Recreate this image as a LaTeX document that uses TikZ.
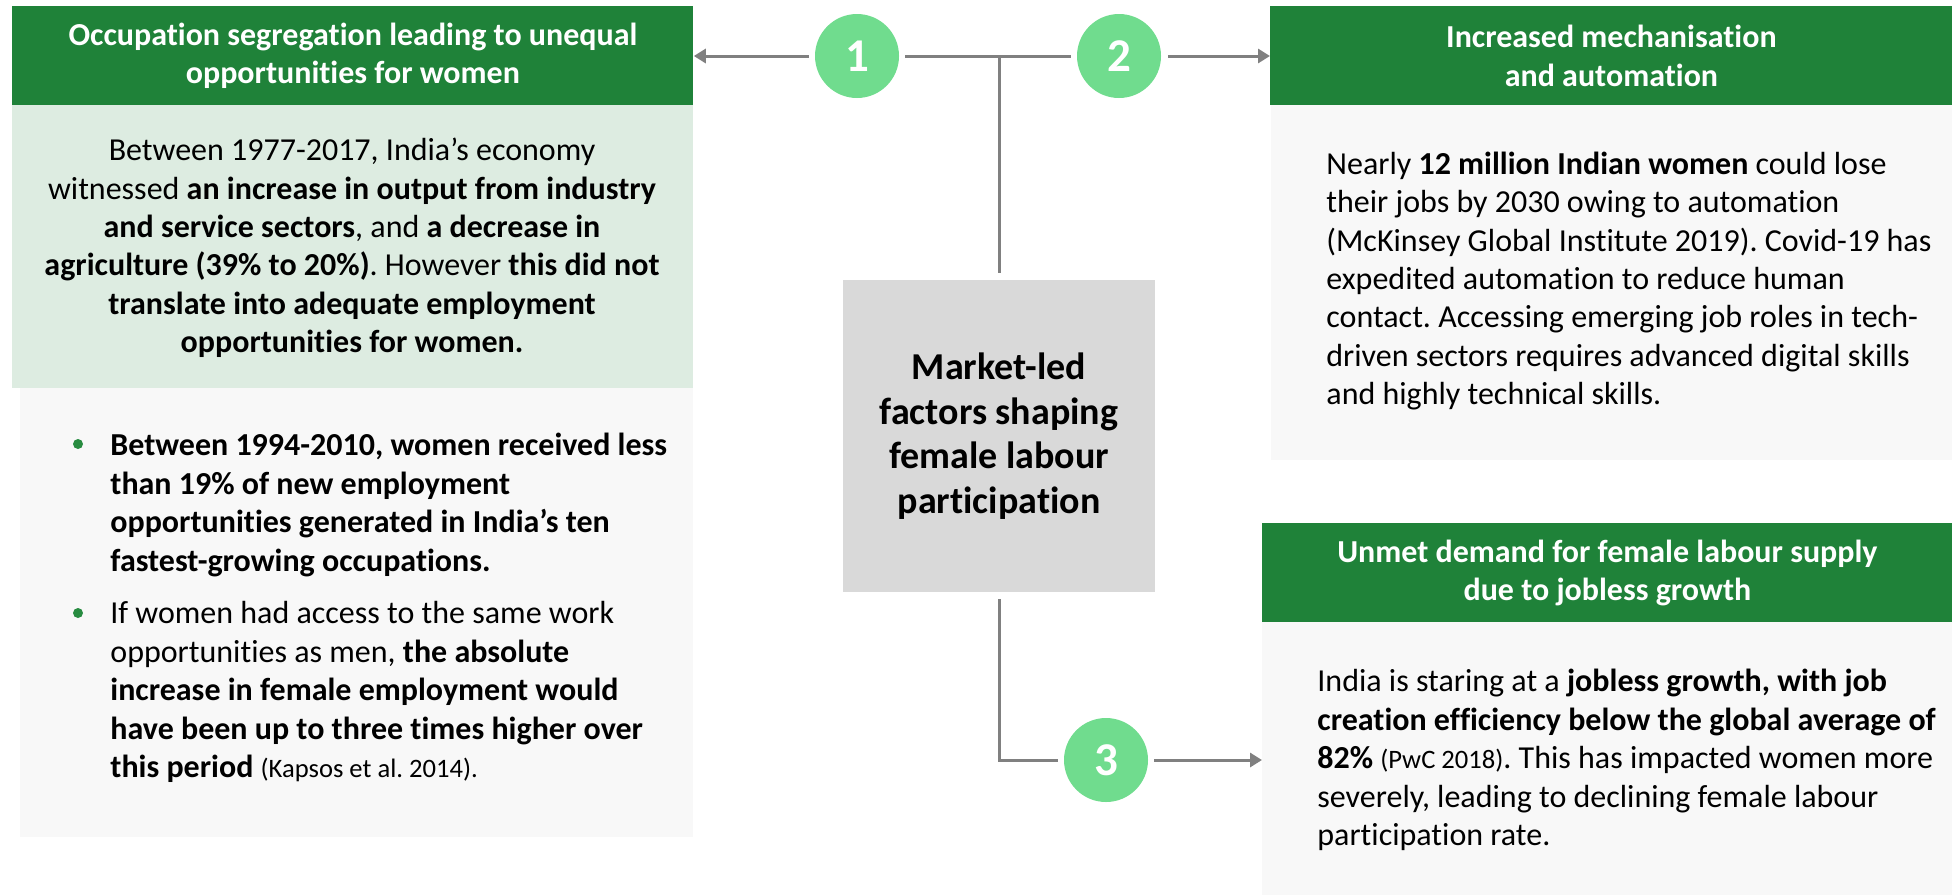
\documentclass[tikz,border=0pt]{standalone}
\usepackage{fontspec}
\setmainfont{Carlito}[Ligatures={TeX,NoCommon}]
\usetikzlibrary{arrows.meta,calc}
\frenchspacing

\definecolor{hdrgreen}{RGB}{31,130,57}
\definecolor{panelgreen}{RGB}{221,236,225}
\definecolor{panelgray}{RGB}{248,248,248}
\definecolor{boxgray}{RGB}{217,217,217}
\definecolor{circgreen}{RGB}{112,220,142}
\definecolor{linegray}{RGB}{128,128,128}
\definecolor{bulletgreen}{RGB}{40,140,65}

\newcommand\citesize{\fontsize{13.3}{19.2}\selectfont}

\begin{document}
\begin{tikzpicture}[x=0.5pt,y=-0.5pt,
  hdr/.style={rectangle, fill=hdrgreen, anchor=north west, inner sep=0pt,
    text=white, align=center, font=\fontsize{16}{19.2}\selectfont\bfseries},
  panel/.style={rectangle, anchor=north west, inner sep=0pt},
  bodytxt/.style={inner sep=0pt, text=black, font=\fontsize{16}{19.2}\selectfont},
  num/.style={circle, fill=circgreen, minimum size=42pt, inner sep=0pt,
    text=white, font=\fontsize{23.5}{28}\selectfont\bfseries},
  hubbox/.style={rectangle, fill=boxgray, minimum width=156pt, minimum height=156pt,
    inner sep=0pt, align=center, font=\fontsize{19}{22.3}\selectfont\bfseries},
  conn/.style={draw=linegray, line width=1.5pt},
  arr/.style={conn, -{Triangle[length=6pt,width=7pt]}},
  dot/.style={circle, fill=bulletgreen, minimum size=5pt, inner sep=0pt}
]
\useasboundingbox (0,0) rectangle (1952,895);

% ---- left column: occupation segregation ----
\node[hdr, minimum width=340.5pt, minimum height=49.5pt] (hdr1) at (12,6)
  {Occupation segregation leading to unequal\\opportunities for women};
\node[panel, fill=panelgreen, minimum width=340.5pt, minimum height=141.5pt] (body1a) at (12,105) {};
\node[panel, fill=panelgray, minimum width=336.5pt, minimum height=224.5pt] (body1b) at (20,388) {};

\node[bodytxt, align=center] (txt1a) at (352,248)
  {Between 1977-2017, India’s economy\\
   witnessed \textbf{an increase in output from industry}\\
   \textbf{and service sectors}, and \textbf{a decrease in}\\
   \textbf{agriculture (39\% to 20\%)}. However \textbf{this did not}\\
   \textbf{translate into adequate employment}\\
   \textbf{opportunities for women.}};

\node[dot] (dot1) at (78,444) {};
\node[bodytxt, align=left, anchor=west] (txt1b) at (110,505)
  {\textbf{Between 1994-2010, women received less}\\
   \textbf{than 19\% of new employment}\\
   \textbf{opportunities generated in India’s ten}\\
   \textbf{fastest-growing occupations.}};
\node[dot] (dot2) at (78,613) {};
\node[bodytxt, align=left, anchor=west] (txt1c) at (110,692)
  {If women had access to the same work\\
   opportunities as men, \textbf{the absolute}\\
   \textbf{increase in female employment would}\\
   \textbf{have been up to three times higher over}\\
   \textbf{this period} {\citesize(Kapsos et al. 2014).}};

% ---- right top: mechanisation ----
\node[hdr, minimum width=341pt, minimum height=49.5pt] (hdr2) at (1270,6)
  {Increased mechanisation\\and automation};
\node[panel, fill=panelgray, minimum width=340.5pt, minimum height=177.5pt] (body2) at (1271,105) {};
\node[bodytxt, align=left, anchor=west] (txt2) at (1326,281)
  {Nearly \textbf{12 million Indian women} could lose\\
   their jobs by 2030 owing to automation\\
   (McKinsey Global Institute 2019). Covid-19 has\\
   expedited automation to reduce human\\
   contact. Accessing emerging job roles in tech-\\
   driven sectors requires advanced digital skills\\
   and highly technical skills.};

% ---- right bottom: jobless growth ----
\node[hdr, minimum width=345pt, minimum height=49.5pt] (hdr3) at (1262,523)
  {Unmet demand for female labour supply\\due to jobless growth};
\node[panel, fill=panelgray, minimum width=345pt, minimum height=136.5pt] (body3) at (1262,622) {};
\node[bodytxt, align=left, anchor=west] (txt3) at (1317,760)
  {India is staring at a \textbf{jobless growth, with job}\\
   \textbf{creation efficiency below the global average of}\\
   \textbf{82\%} {\citesize(PwC 2018)}. This has impacted women more\\
   severely, leading to declining female labour\\
   participation rate.};

% ---- centre ----
\node[hubbox] (ctr) at (999,436)
  {Market-led\\factors shaping\\female labour\\participation};

\node[num] (c1) at (857,56) {1};
\node[num] (c2) at (1119,56) {2};
\node[num] (c3) at (1106,760) {3};

\coordinate (hub) at (999,56);

% ---- connectors ----
\draw[conn, shorten <=3pt, shorten >=3pt] (c1.east) -- (c2.west);
\draw[conn, shorten <=3.5pt] (ctr.north) -- (hub);
\draw[arr, shorten <=3pt] (c1.west) -- (c1.west -| hdr1.east);
\draw[arr, shorten <=3.5pt] (c2.east) -- (c2.east -| hdr2.west);
\draw[conn, shorten <=3.5pt, shorten >=3pt] (ctr.south) |- (c3.west);
\draw[arr, shorten <=3pt] (c3.east) -- (c3.east -| body3.west);
\end{tikzpicture}
\end{document}
